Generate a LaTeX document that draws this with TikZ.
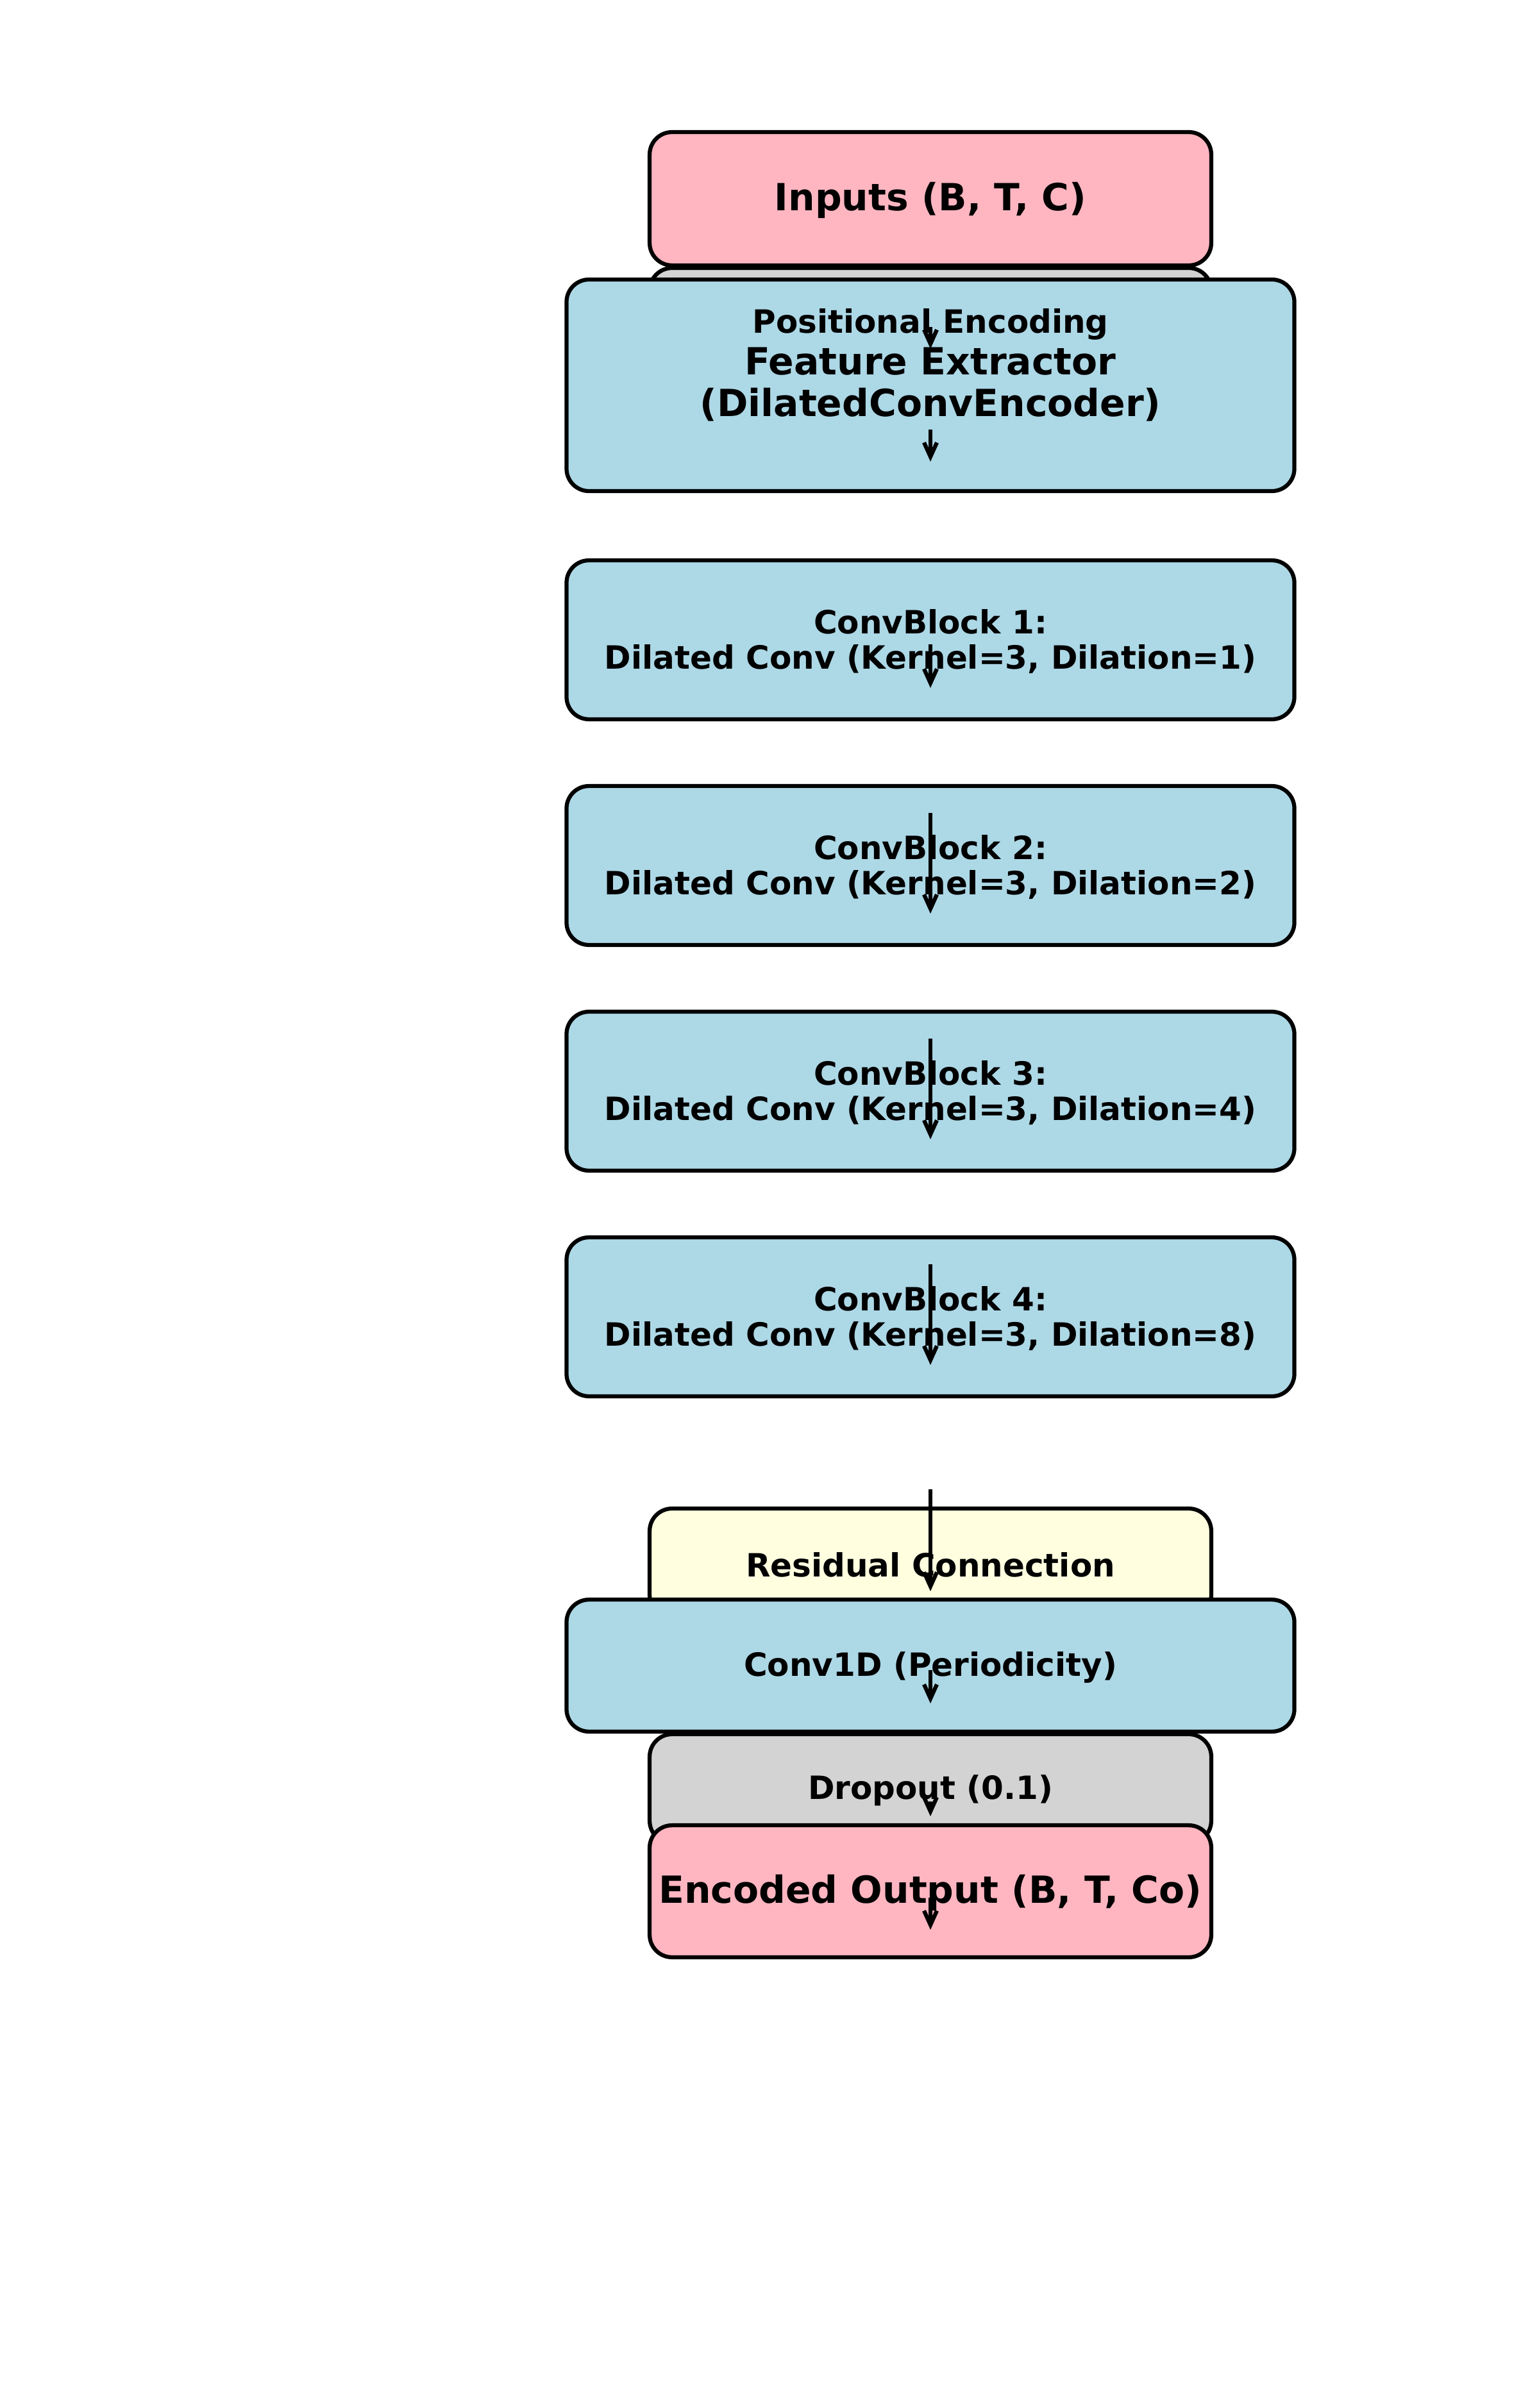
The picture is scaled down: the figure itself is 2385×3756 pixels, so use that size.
\documentclass[tikz,border=0pt]{standalone}
\usepackage{fontspec}
\setmainfont{DejaVu Sans}
\usetikzlibrary{arrows.meta}

\definecolor{boxpink}{HTML}{FFB6C1}
\definecolor{boxblue}{HTML}{ADD8E6}
\definecolor{boxgray}{HTML}{D3D3D3}
\definecolor{boxyellow}{HTML}{FFFFE0}

\tikzstyle{layerbox} = [draw=black, line width=1.5bp, rectangle,
    rounded corners=8.4bp, inner sep=0pt]
\tikzstyle{narrowbox} = [layerbox, minimum width=210.2bp]
\tikzstyle{widebox} = [layerbox, minimum width=272.4bp]
\tikzstyle{bigtext} = [font=\fontsize{14bp}{15.5bp}\selectfont\bfseries, align=center, yshift=-0.6bp]
\tikzstyle{smalltext} = [font=\fontsize{12bp}{13.2bp}\selectfont\bfseries, align=center, yshift=-0.6bp]
\tikzstyle{flowarrow} = [-{Straight Barb[length=5.3bp, width=4.8bp]}, line width=1.5bp]

\begin{document}
\begin{tikzpicture}[x=0.24bp, y=-0.24bp]
    \useasboundingbox (0,0) rectangle (2385,3756);
%------------ Boxes ---------------------
    \node [narrowbox, fill=boxgray, minimum height=40.8bp] (posenc) at (1451,503) {};
    \node [narrowbox, fill=boxpink, minimum height=49.9bp] (inputs) at (1451,310) {};
    \node [widebox, fill=boxblue, minimum height=79.2bp] (feat) at (1451,601) {};
    \node [widebox, fill=boxblue, minimum height=59.5bp] (block1) at (1451,998) {};
    \node [widebox, fill=boxblue, minimum height=59.5bp] (block2) at (1451,1350) {};
    \node [widebox, fill=boxblue, minimum height=59.5bp] (block3) at (1451,1702) {};
    \node [widebox, fill=boxblue, minimum height=59.5bp] (block4) at (1451,2054) {};
    \node [narrowbox, fill=boxyellow, minimum height=40.8bp] (resid) at (1451,2438) {};
    \node [widebox, fill=boxblue, minimum height=49.4bp] (conv) at (1451,2598) {};
    \node [narrowbox, fill=boxgray, minimum height=40.8bp] (drop) at (1451,2790) {};
    \node [narrowbox, fill=boxpink, minimum height=49.4bp] (output) at (1451,2950) {};
%------------ Labels ---------------------
    \node [bigtext] (inputs-txt) at (inputs) {Inputs (B, T, C)};
    \node [smalltext] (posenc-txt) at (posenc) {Positional Encoding};
    \node [bigtext] (feat-txt) at (1451,597) {Feature Extractor\\(DilatedConvEncoder)};
    \node [smalltext] (block1-txt) at (block1) {ConvBlock 1:\\Dilated Conv (Kernel=3, Dilation=1)};
    \node [smalltext] (block2-txt) at (block2) {ConvBlock 2:\\Dilated Conv (Kernel=3, Dilation=2)};
    \node [smalltext] (block3-txt) at (block3) {ConvBlock 3:\\Dilated Conv (Kernel=3, Dilation=4)};
    \node [smalltext] (block4-txt) at (block4) {ConvBlock 4:\\Dilated Conv (Kernel=3, Dilation=8)};
    \node [smalltext] (resid-txt) at (resid) {Residual Connection};
    \node [smalltext] (conv-txt) at (conv) {Conv1D (Periodicity)};
    \node [smalltext] (drop-txt) at (drop) {Dropout (0.1)};
    \node [bigtext] (output-txt) at (output) {Encoded Output (B, T, Co)};
%------------ Arrows ---------------------
    \foreach \i/\ystart/\yend in {1/510/544, 2/670/720, 3/1005/1073, 4/1268/1425,
        5/1620/1777, 6/1972/2129, 7/2323/2482, 8/2605/2657, 9/2810/2833, 10/2960/3010}
    {
        \coordinate (from\i) at (1451,\ystart);
        \coordinate (to\i) at (1451,\yend);
        \draw [flowarrow] (from\i) -- (to\i);
    }
\end{tikzpicture}
\end{document}
